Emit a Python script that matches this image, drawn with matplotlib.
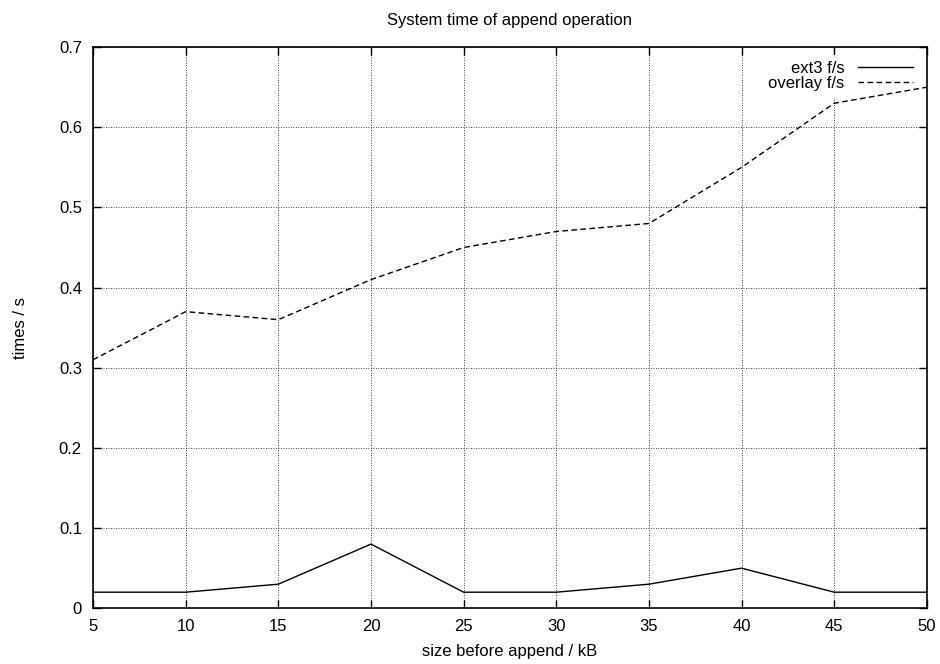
import numpy as np
import matplotlib
matplotlib.use('Agg')
import matplotlib.pyplot as plt

plt.rcParams['font.family'] = ['Liberation Sans', 'DejaVu Sans']

# data
sizes = [5, 10, 15, 20, 25, 30, 35, 40, 45, 50]
ext3 = [0.02, 0.02, 0.03, 0.08, 0.02, 0.02, 0.03, 0.05, 0.02, 0.02]
overlay = [0.31, 0.37, 0.36, 0.41, 0.45, 0.47, 0.48, 0.55, 0.63, 0.65]

fig = plt.figure(figsize=(9.4, 6.64), dpi=100)
ax = fig.add_axes([0.099, 0.084, 0.887, 0.845])

ax.plot(sizes, ext3, color='k', linewidth=1.0, label='ext3 f/s', zorder=3)
ax.plot(sizes, overlay, color='k', linewidth=1.0, linestyle=(0, (4, 2.5)), label='overlay f/s', zorder=3)

ax.set_xlim(5, 50)
ax.set_ylim(0, 0.7)
ax.set_xticks(np.arange(5, 51, 5))
ax.set_yticks(np.arange(0, 0.71, 0.1))
ax.set_yticklabels(['0', '0.1', '0.2', '0.3', '0.4', '0.5', '0.6', '0.7'])

ax.grid(True, color='k', linestyle=(0, (1, 2)), linewidth=0.6)
ax.tick_params(direction='in', length=6, width=1, top=True, right=True, labelsize=12, pad=8)
for s in ax.spines.values():
    s.set_linewidth(1.2)

ax.set_title('System time of append operation', fontsize=12, pad=16)
ax.set_xlabel('size before append / kB', fontsize=12, labelpad=7)
ax.set_ylabel('times / s', fontsize=12, labelpad=22)

leg = ax.legend(loc='upper right', frameon=True, fontsize=12, handlelength=3.3,
                markerfirst=False, borderaxespad=0.45, labelspacing=0.0, handletextpad=0.8)
leg.get_frame().set_edgecolor('none')
leg.get_frame().set_facecolor('white')
leg.get_frame().set_alpha(1)
leg.get_frame().set_boxstyle('square', pad=0)
leg.set_zorder(2)
for t in leg.get_texts():
    t.set_ha('right')

plt.savefig('out.png', dpi=100)
